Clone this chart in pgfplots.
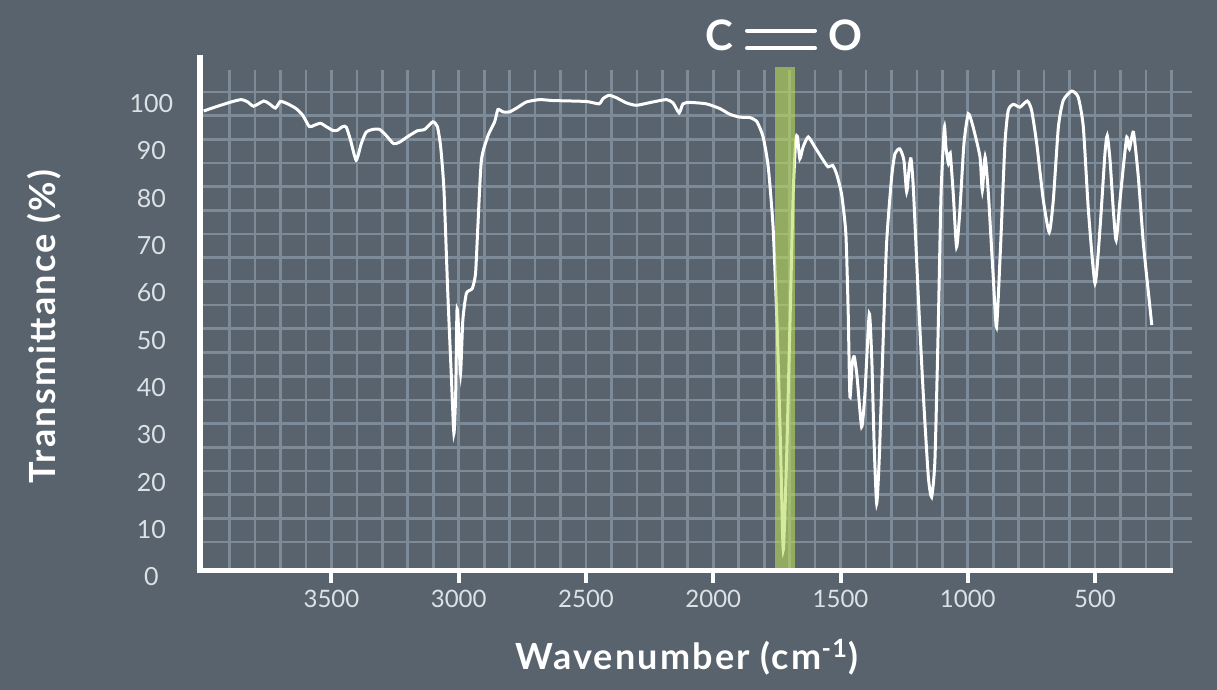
\documentclass[border=0pt]{standalone}
\usepackage{pgfplots}
\pgfplotsset{compat=1.18}
\usepackage{fontspec}
\setmainfont{Lato}
\newfontfamily\labelfont[LetterSpace=6]{Lato}
\definecolor{bg}{RGB}{88,99,109}
\definecolor{gridc}{RGB}{125,138,152}
\definecolor{band}{RGB}{185,220,90}
\definecolor{ticklab}{RGB}{220,225,230}
\begin{document}
\begin{tikzpicture}[x=1pt,y=1pt]
\fill[bg] (0,0) rectangle (608.5,345);
\begin{axis}[
  at={(100pt,59.75pt)}, anchor=south west,
  scale only axis, width=496pt, height=250.25pt,
  xmin=119, xmax=4016.7, x dir=reverse,
  ymin=1.37, ymax=107.05,
  clip=false,
  axis line style={draw=none},
  xtick={500,1000,1500,2000,2500,3000,3500},
  xticklabels={500,1000,1500,2000,2500,3000,3500},
  minor xtick={200,300,...,3900},
  ytick={1.37,11.37,21.37,31.37,41.37,51.37,61.37,71.37,81.37,91.37,101.37},
  yticklabels={0,10,20,30,40,50,60,70,80,90,100},
  minor ytick={7.4,12.4,...,102.4},
  grid=minor,
  minor grid style={gridc, line width=1.35pt},
  major grid style={draw=none},
  tick align=outside, major tick length=6.25pt, minor tick length=0pt,
  xtick pos=bottom, ytick pos=left,
  xtick style={white, line width=2pt},
  ytick style={draw=none},
  /pgf/number format/assume math mode=true,
  xticklabel style={text=ticklab, font=\fontsize{12}{14}\selectfont, anchor=center, yshift=-8pt},
  yticklabel style={text=ticklab, font=\fontsize{12.5}{14}\selectfont, anchor=center, xshift=-18pt, yshift=-3.25pt},
]
\addplot[white, line width=1.5pt, smooth, tension=0.35] coordinates {
(4002,98.4)(3947,99.4)(3894,100.3)(3855,100.8)(3829,100.3)(3806,99.4)(3766,100.5)(3744,99.9)
(3720,99.0)(3701,100.4)(3672,99.9)(3639,98.9)(3613,97.5)(3587,95.1)(3567,95.4)(3543,95.8)
(3521,95.1)(3495,94.3)(3478,94.3)(3456,95.1)(3442,95.0)(3425,92.2)(3403,88.0)(3383,91.5)
(3364,93.9)(3338,94.5)(3311,94.5)(3285,93.2)(3256,91.5)(3233,91.8)(3200,93.0)(3163,94.2)
(3134,94.5)(3102,96.1)(3084,95.1)(3071,90.8)(3058,81.6)(3043,59.9)(3029,42.3)(3019,30.3)
(3012,38.8)(3007,56.3)(3001,52.8)(2993,43.0)(2984,54.2)(2970,59.9)(2947,60.9)(2934,64.1)
(2925,73.9)(2911,88.0)(2885,93.2)(2859,96.1)(2846,98.7)(2826,98.2)(2800,98.2)(2767,99.2)
(2734,100.3)(2682,100.8)(2630,100.6)(2499,100.4)(2449,99.9)(2433,101.0)(2410,101.7)(2381,101.2)
(2341,100.1)(2302,99.6)(2237,100.3)(2184,100.8)(2158,100.1)(2134,98.0)(2119,99.9)(2092,100.2)
(2027,99.9)(1974,98.9)(1935,97.7)(1896,97.1)(1856,97.0)(1828,96.1)(1804,92.9)(1784,86.6)
(1765,73.9)(1749,52.8)(1736,28.2)(1725,5.7)(1712,24.7)(1699,52.8)(1686,80.9)(1676,92.2)
(1669,93.0)(1660,88.3)(1647,90.8)(1627,92.9)(1601,90.8)(1568,88.0)(1549,86.6)(1531,86.9)
(1516,85.2)(1496,80.9)(1479,72.5)(1470,56.3)(1463,38.0)(1454,45.1)(1446,46.5)(1435,42.3)
(1417,31.7)(1404,38.8)(1387,55.6)(1377,45.8)(1368,28.2)(1358,15.5)(1348,24.7)(1335,45.8)
(1319,70.4)(1299,84.5)(1286,89.4)(1267,90.4)(1251,88.0)(1240,81.3)(1230,86.6)(1223,88.3)
(1214,82.3)(1195,59.9)(1175,38.8)(1155,21.2)(1142,16.9)(1129,24.7)(1116,52.8)(1105,80.9)
(1092,95.0)(1086,90.8)(1076,87.3)(1069,89.5)(1057,80.9)(1044,69.7)(1031,77.4)(1015,91.5)
(998,97.8)(979,95.0)(952,88.7)(943,81.6)(932,88.7)(919,80.9)(900,63.4)(887,52.8)
(871,70.0)(854,91.5)(841,98.5)(821,99.8)(795,99.2)(766,100.5)(749,98.5)(729,91.5)
(703,79.5)(680,72.8)(664,79.5)(644,95.0)(625,100.6)(592,102.6)(566,101.3)(546,95.0)
(526,77.4)(500,62.0)(480,73.9)(461,89.4)(452,93.2)(441,88.0)(428,77.4)(417,71.1)
(402,79.5)(386,88.0)(375,92.9)(365,90.4)(349,93.9)(330,84.5)(310,70.4)(290,59.9)(277,53.2)
};
\addplot[draw=none, fill=band, fill opacity=0.6] coordinates {
(1758,1.37)(1679,1.37)(1679,107.7)(1758,107.7)} -- cycle;
\draw[white, line width=2.75pt, line join=miter] (axis cs:4016.7,110.2) -- (axis cs:4016.7,1.37) -- (axis cs:193.5,1.37);
\end{axis}
\node[anchor=base, text=white, font=\fontsize{18}{21}\labelfont\bfseries] at (343.4,10.15) {Wavenumber (cm\textsuperscript{-1})};
\node[anchor=base, rotate=90, text=white, font=\fontsize{18}{21}\labelfont\bfseries] at (27.75,181.65) {Transmittance (\%)};
\node[text=white, font=\fontsize{21}{25}\selectfont\bfseries, inner sep=0pt] at (359.5,327.5) {C};
\node[text=white, font=\fontsize{21}{25}\selectfont\bfseries, inner sep=0pt] at (422.5,327.5) {O};
\draw[white, line width=2pt, line cap=round] (373.5,329.65) -- (407.5,329.65);
\draw[white, line width=2pt, line cap=round] (373.5,320.85) -- (407.5,320.85);
\end{tikzpicture}
\end{document}
